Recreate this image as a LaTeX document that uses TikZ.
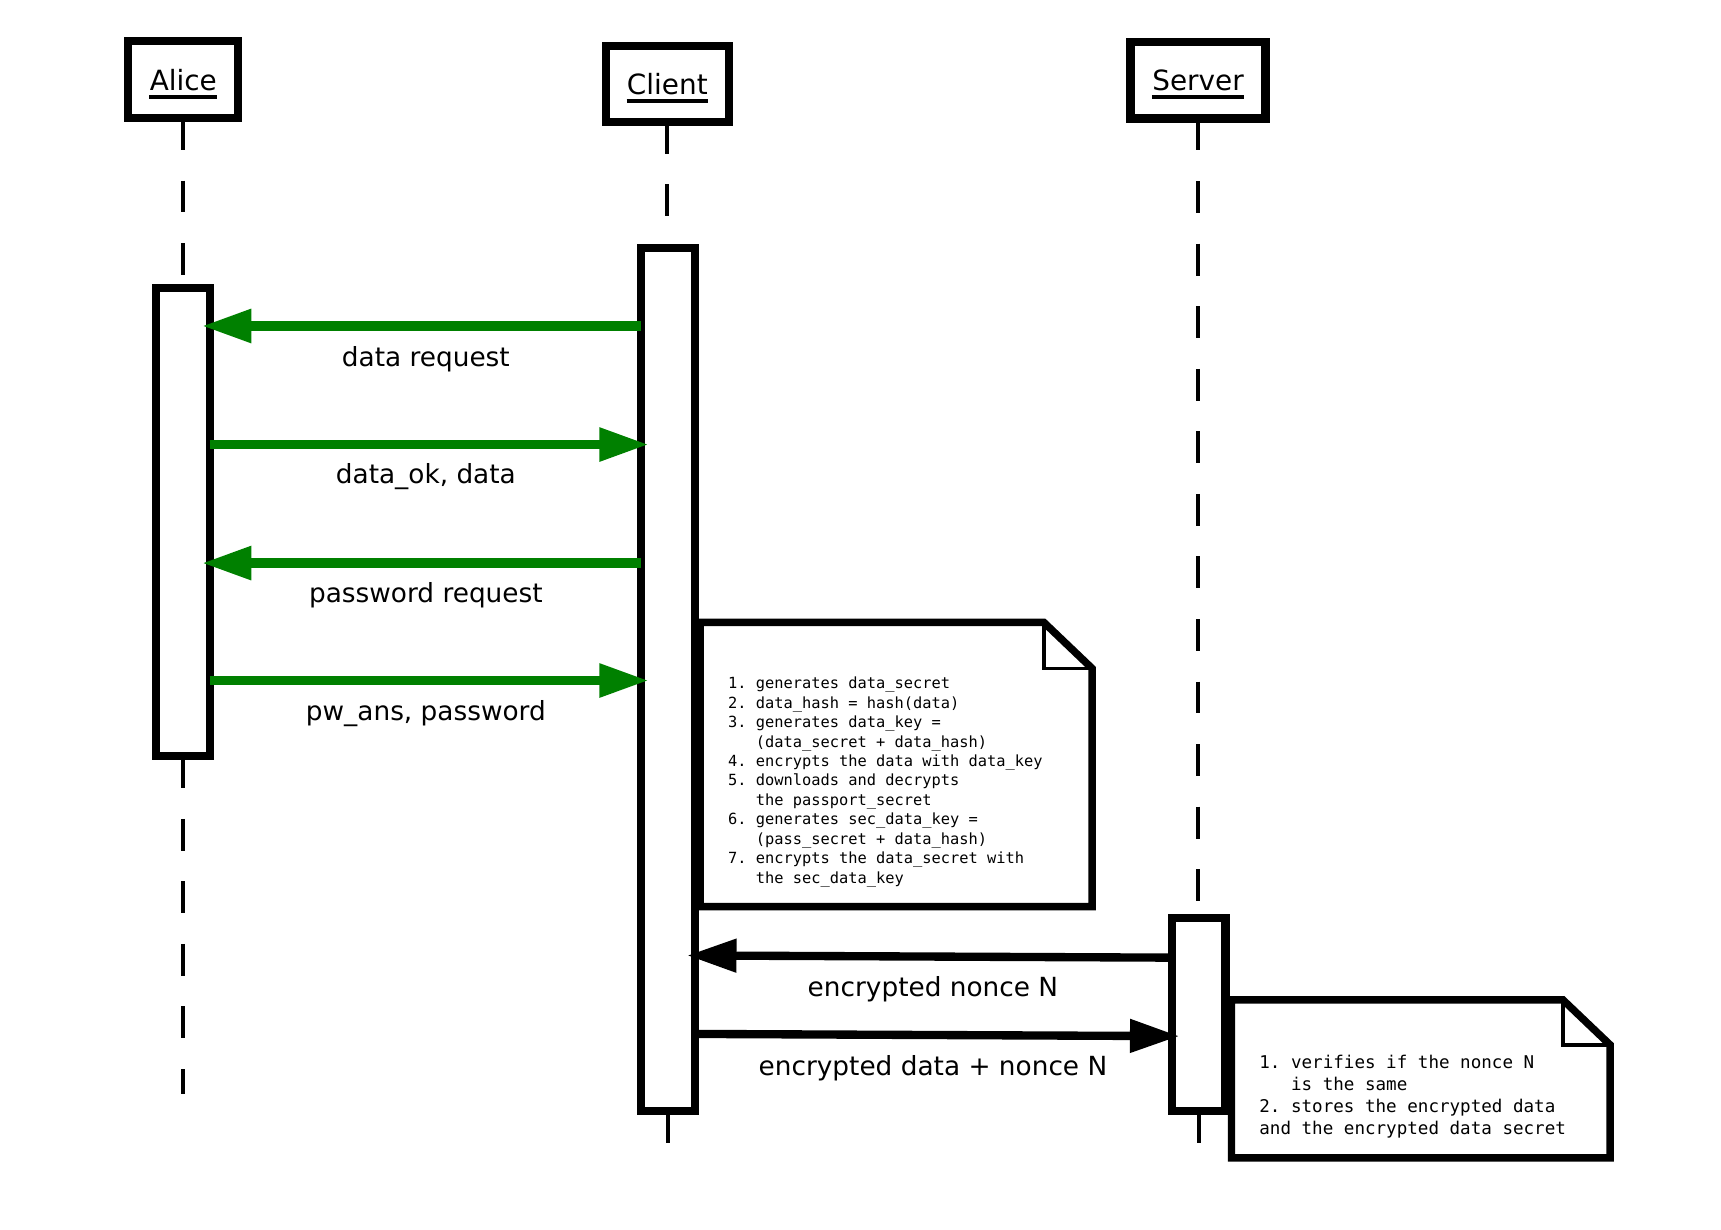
\documentclass[tikz,border=0pt]{standalone}
\usepackage{fontspec}
\setmainfont{DejaVu Sans}
\setmonofont{DejaVu Sans Mono}
\usetikzlibrary{arrows.meta}
\definecolor{msggreen}{HTML}{008000}
\newcommand\noteindent{\hphantom{0.\ }}

\begin{document}
\begin{tikzpicture}[x=0.5pt,y=-0.5pt,
  header/.style={draw,line width=3.7pt,fill=white,inner sep=0pt,outer sep=0pt},
  headname/.style={inner sep=0pt,anchor=base,font=\fontsize{12.7}{15}\selectfont},
  actbox/.style={draw,line width=3.7pt,fill=white,minimum width=24.5pt,inner sep=0pt,outer sep=0pt},
  lifeline/.style={line width=1.8pt,dash pattern=on 14.5pt off 14pt},
  msg/.style={-{Triangle[length=22.5pt,width=14.5pt]}},
  greenmsg/.style={msg,msggreen,line width=4.3pt},
  blackmsg/.style={msg,black,line width=3.8pt},
  msglabel/.style={inner sep=0pt,font=\fontsize{12}{14}\selectfont},
  notebox/.style={draw,line width=3.4pt,fill=white,line join=miter},
  fold/.style={draw,line width=1.6pt},
  notetext/.style={inner sep=0pt,anchor=north west,align=left}
]
\useasboundingbox (0,0) rectangle (1568,1120);

% participants
\node[header,minimum width=50pt,minimum height=35pt] (alice) at (166.5,72.5) {};
\node[header,minimum width=56pt,minimum height=34.5pt] (client) at (608,76.5) {};
\node[header,minimum width=61.5pt,minimum height=35pt] (server) at (1091.5,73) {};
\node[headname] (aliceName) at (167,82) {Alice};
\node[headname] (clientName) at (608,86) {Client};
\node[headname] (serverName) at (1091.5,82) {Server};
\foreach \n in {aliceName,clientName,serverName}
  \draw[line width=1.8pt] ([yshift=-3pt]\n.base west) -- ([yshift=-3pt]\n.base east);

% activation bars
\node[actbox,minimum height=213.5pt] (aliceAct) at (166.5,475.5) {};
\node[actbox,minimum height=393pt] (clientAct) at (608.5,619) {};
\node[actbox,minimum height=88pt] (serverAct) at (1092,924) {};

% lifelines
\coordinate (aliceEnd) at (166.5,997);
\coordinate (clientEnd) at (608.5,1041);
\coordinate (serverEnd) at (1092,1041);
\draw[lifeline] (alice.south) -- (alice.south |- aliceAct.north);
\draw[lifeline] (aliceAct.south) -- (aliceEnd);
\draw[lifeline] (client.south) -- (client.south |- clientAct.north);
\draw[lifeline] (clientAct.south) -- (clientEnd);
\draw[lifeline] (server.south) -- (server.south |- serverAct.north);
\draw[lifeline] (serverAct.south) -- (serverEnd);

% message rows
\coordinate (r1) at (0,297);
\coordinate (r2) at (0,405);
\coordinate (r3) at (0,513);
\coordinate (r4) at (0,620);
\coordinate (r5) at (0,872.5);
\coordinate (r6) at (0,942);

\draw[greenmsg] (clientAct.west |- r1) -- ([xshift=-3.5pt]aliceAct.east |- r1);
\draw[greenmsg] (aliceAct.east |- r2) -- ([xshift=3.5pt]clientAct.west |- r2);
\draw[greenmsg] (clientAct.west |- r3) -- ([xshift=-3.5pt]aliceAct.east |- r3);
\draw[greenmsg] (aliceAct.east |- r4) -- ([xshift=3.5pt]clientAct.west |- r4);
\draw[blackmsg] (serverAct.west |- r5) -- ([xshift=-3.5pt,yshift=1pt]clientAct.east |- r5);
\draw[blackmsg] (clientAct.east |- r6) -- ([xshift=3.5pt,yshift=-1pt]serverAct.west |- r6);

\node[msglabel] (l1) at (388,327.5) {data request};
\node[msglabel] (l2) at (388,434.5) {data\_ok, data};
\node[msglabel] (l3) at (388,542.5) {password request};
\node[msglabel] (l4) at (388,650.5) {pw\_ans, password};
\node[msglabel] (l5) at (850,901) {encrypted nonce N};
\node[msglabel] (l6) at (850,973) {encrypted data + nonce N};

% note on the client
\path[notebox] (638,567) -- (951,567) -- (995,609) -- (995,826) -- (638,826) -- cycle;
\path[fold] (951,567) -- (951,609) -- (995,609);
\node[notetext,font=\ttfamily\fontsize{7}{8.85}\selectfont] (note1) at (663,616.5) {%
1. generates data\_secret\\
2. data\_hash = hash(data)\\
3. generates data\_key =\\
\noteindent(data\_secret + data\_hash)\\
4. encrypts the data with data\_key\\
5. downloads and decrypts\\
\noteindent the passport\_secret\\
6. generates sec\_data\_key =\\
\noteindent(pass\_secret + data\_hash)\\
7. encrypts the data\_secret with\\
\noteindent the sec\_data\_key};

% note on the server
\path[notebox] (1122,911) -- (1424,911) -- (1467,952) -- (1467,1055) -- (1122,1055) -- cycle;
\path[fold] (1424,911) -- (1424,952) -- (1467,952);
\node[notetext,font=\ttfamily\fontsize{8}{10}\selectfont] (note2) at (1147,961) {%
1. verifies if the nonce N\\
\noteindent is the same\\
2. stores the encrypted data\\
and the encrypted data secret};
\end{tikzpicture}
\end{document}
